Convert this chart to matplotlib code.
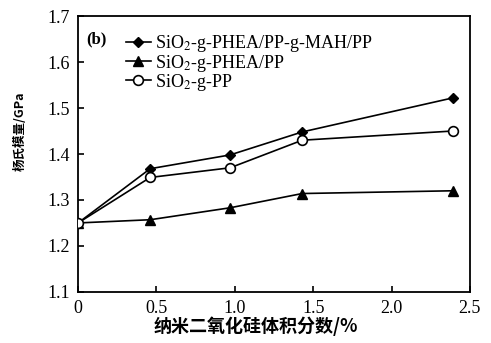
import numpy as np
import matplotlib.pyplot as plt
from matplotlib.lines import Line2D

# 数据
x = [0, 0.46, 0.97, 1.43, 2.39]
y_mah = [1.25, 1.368, 1.398, 1.448, 1.522]
y_phea = [1.25, 1.257, 1.283, 1.314, 1.320]
y_pp = [1.25, 1.349, 1.370, 1.430, 1.450]

labels = ['SiO$_2$-g-PHEA/PP-g-MAH/PP', 'SiO$_2$-g-PHEA/PP', 'SiO$_2$-g-PP']
xticks = [0, 0.5, 1.0, 1.5, 2.0, 2.5]
xticklabels = ['0', '0.5', '1.0', '1.5', '2.0', '2.5']
yticks = [1.1, 1.2, 1.3, 1.4, 1.5, 1.6, 1.7]

plt.rcParams['font.family'] = ['Liberation Serif', 'DejaVu Serif']
plt.rcParams['mathtext.fontset'] = 'stix'

fig = plt.figure(figsize=(4.91, 3.43), dpi=100)
ax = fig.add_axes([0.159, 0.149, 0.798, 0.804])

ax.plot(x, y_mah, '-', color='black', lw=1.2, marker='D', ms=5, mfc='black', mec='black', zorder=3)
ax.plot(x, y_phea, '-', color='black', lw=1.2, marker='^', ms=7, mfc='black', mec='black', zorder=3)
ax.plot(x, y_pp, '-', color='black', lw=1.2, marker='o', ms=7, mfc='white', mec='black', mew=1.2, zorder=4)

ax.set_xlim(0, 2.5)
ax.set_ylim(1.1, 1.7)
ax.set_xticks(xticks)
ax.set_xticklabels(xticklabels)
ax.set_yticks(yticks)
ax.tick_params(direction='in', length=4, width=1.2, labelsize=13)
ax.tick_params(axis='x', pad=6)
ax.tick_params(axis='y', pad=6)
for s in ax.spines.values():
    s.set_linewidth(1.3)

ax.set_xlabel('纳米二氧化硅体积分数/%', family=['Noto Sans CJK SC', 'DejaVu Sans'],
              fontsize=13, fontweight='bold')
ax.xaxis.set_label_coords(0.454, -0.088)
ax.set_ylabel('杨氏模量/GPa', family=['Noto Sans CJK SC', 'DejaVu Sans'],
              fontsize=9, fontweight='bold')
ax.yaxis.set_label_coords(-0.13, 0.583)

ax.text(0.022, 0.915, '(b)', transform=ax.transAxes, fontsize=12, fontweight='bold',
        va='center', ha='left')

handles = [
    Line2D([], [], color='black', lw=1.2, marker='D', ms=5, mfc='black'),
    Line2D([], [], color='black', lw=1.2, marker='^', ms=7, mfc='black'),
    Line2D([], [], color='black', lw=1.2, marker='o', ms=7, mfc='white', mew=1.2),
]
ax.legend(handles, labels, loc='upper left', bbox_to_anchor=(0.085, 0.99), frameon=False,
          fontsize=13, handlelength=1.4, handletextpad=0.2, labelspacing=-0.1,
          borderaxespad=0.4)

fig.savefig('out.png', dpi=100)
